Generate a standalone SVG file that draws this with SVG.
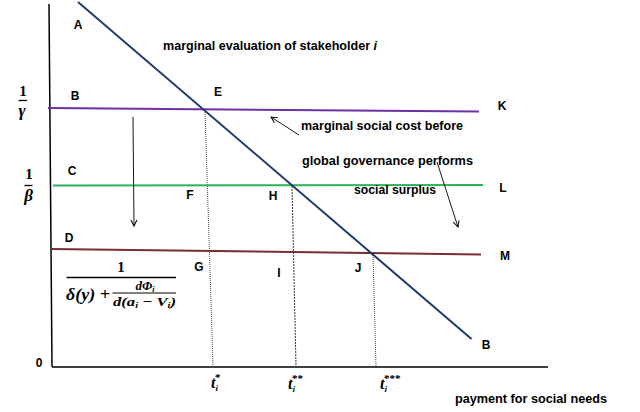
<svg xmlns="http://www.w3.org/2000/svg" width="640" height="412" viewBox="0 0 640 412">
<defs>
<marker id="ah" markerWidth="8" markerHeight="8" refX="7" refY="4" orient="auto" markerUnits="userSpaceOnUse">
<path d="M1,1 L7,4 L1,7" fill="none" stroke="#000" stroke-width="1"/>
</marker>
<style>
.lbl{font-family:"Liberation Sans Narrow","Liberation Sans",Arial,sans-serif;font-weight:bold;font-size:12px;fill:#000;}
.math{font-family:"Liberation Serif","Times New Roman",serif;font-weight:bold;font-style:italic;fill:#000;}
.num{font-family:"Liberation Serif","Times New Roman",serif;font-weight:bold;fill:#000;}
.axis{stroke:#000;stroke-width:1.5;fill:none;}
.dot{stroke:#444;stroke-width:1;stroke-dasharray:1,1;fill:none;}
.arr{stroke:#000;stroke-width:0.9;fill:none;marker-end:url(#ah);}
</style>
</defs>
<rect width="640" height="412" fill="#fff"/>
<g id="connectors">
<line class="axis" x1="49" y1="4" x2="52" y2="367"/>
<line class="axis" x1="52" y1="367" x2="548" y2="367"/>
<line class="dot" x1="205" y1="110" x2="213" y2="366"/>
<line x1="292" y1="186" x2="296" y2="366" stroke="#333" stroke-width="1" stroke-dasharray="2,1"/>
<line class="dot" x1="373" y1="255" x2="376" y2="366"/>
<line x1="48" y1="108" x2="479" y2="111.5" stroke="#7030A0" stroke-width="2"/>
<line x1="53" y1="185.5" x2="483" y2="185" stroke="#2DB35A" stroke-width="2"/>
<line x1="51" y1="249" x2="481" y2="254.5" stroke="#772E2E" stroke-width="2"/>
<line x1="78" y1="2" x2="471.5" y2="339" stroke="#1F3A6E" stroke-width="2"/>
<line class="arr" x1="133" y1="117" x2="134" y2="226"/>
<line class="arr" x1="299" y1="135" x2="271" y2="117"/>
<line class="arr" x1="437" y1="162" x2="458" y2="227"/>
</g>
<g id="labels">
<text class="lbl" x="78" y="28.5" text-anchor="middle">A</text>
<text class="lbl" x="75" y="99.5" text-anchor="middle">B</text>
<text class="lbl" x="218" y="95.5" text-anchor="middle">E</text>
<text class="lbl" x="72" y="175" text-anchor="middle">C</text>
<text class="lbl" x="190" y="198.5" text-anchor="middle">F</text>
<text class="lbl" x="273" y="199.5" text-anchor="middle">H</text>
<text class="lbl" x="502" y="110" text-anchor="middle">K</text>
<text class="lbl" x="503" y="192" text-anchor="middle">L</text>
<text class="lbl" x="505" y="260" text-anchor="middle">M</text>
<text class="lbl" x="69" y="241.5" text-anchor="middle">D</text>
<text class="lbl" x="199" y="271" text-anchor="middle">G</text>
<text class="lbl" x="279" y="277" text-anchor="middle">I</text>
<text class="lbl" x="358" y="272" text-anchor="middle">J</text>
<text class="lbl" x="486" y="349" text-anchor="middle">B</text>
<text class="lbl" x="39" y="367" text-anchor="middle">0</text>
<text class="lbl" x="163" y="50" textLength="214" lengthAdjust="spacingAndGlyphs">marginal evaluation of stakeholder <tspan font-style="italic">i</tspan></text>
<text class="lbl" x="301" y="130" textLength="162" lengthAdjust="spacingAndGlyphs">marginal social cost before</text>
<text class="lbl" x="302" y="165" textLength="171" lengthAdjust="spacingAndGlyphs">global governance performs</text>
<text class="lbl" x="354" y="194" textLength="82" lengthAdjust="spacingAndGlyphs">social surplus</text>
<text class="lbl" x="455" y="403" textLength="152" lengthAdjust="spacingAndGlyphs">payment for social needs</text>
</g>
<g id="yaxis-labels">
<text class="num" x="23" y="95.5" font-size="15" text-anchor="middle">1</text>
<line x1="18.5" y1="100.5" x2="27" y2="100.5" stroke="#000" stroke-width="1.3"/>
<text class="math" x="22" y="116" font-size="17" text-anchor="middle">γ</text>
<text class="num" x="29" y="178.5" font-size="15" text-anchor="middle">1</text>
<line x1="24.5" y1="185.5" x2="32.5" y2="185.5" stroke="#000" stroke-width="1.3"/>
<text class="math" x="28.5" y="200.5" font-size="17" text-anchor="middle">β</text>
</g>
<g id="fraction">
<text class="num" x="121" y="271.5" font-size="15" text-anchor="middle">1</text>
<line x1="66.5" y1="277.5" x2="176" y2="277.5" stroke="#000" stroke-width="1.3"/>
<text class="math" x="66" y="300" font-size="16" textLength="44" lengthAdjust="spacingAndGlyphs">δ(y) +</text>
<text class="math" x="145" y="290" font-size="13" text-anchor="middle">dΦ<tspan font-size="8" dy="2">i</tspan></text>
<line x1="112.5" y1="293" x2="176" y2="293" stroke="#000" stroke-width="1.1"/>
<text class="math" x="113" y="306" font-size="13" textLength="63" lengthAdjust="spacingAndGlyphs">d(a<tspan font-size="8" dy="2">i</tspan><tspan dy="-2"> − V</tspan><tspan font-size="8" dy="2">i</tspan><tspan dy="-2">)</tspan></text>
</g>
<g id="t-labels">
<text class="math" x="211" y="388" font-size="16">t<tspan font-size="9" dy="3">i</tspan><tspan font-size="11" dx="-3.5" dy="-10">*</tspan></text>
<text class="math" x="288" y="389" font-size="16">t<tspan font-size="9" dy="3">i</tspan><tspan font-size="11" dx="-3.5" dy="-10">**</tspan></text>
<text class="math" x="380" y="389" font-size="16">t<tspan font-size="9" dy="3">i</tspan><tspan font-size="11" dx="-3.5" dy="-10">***</tspan></text>
</g>
</svg>
